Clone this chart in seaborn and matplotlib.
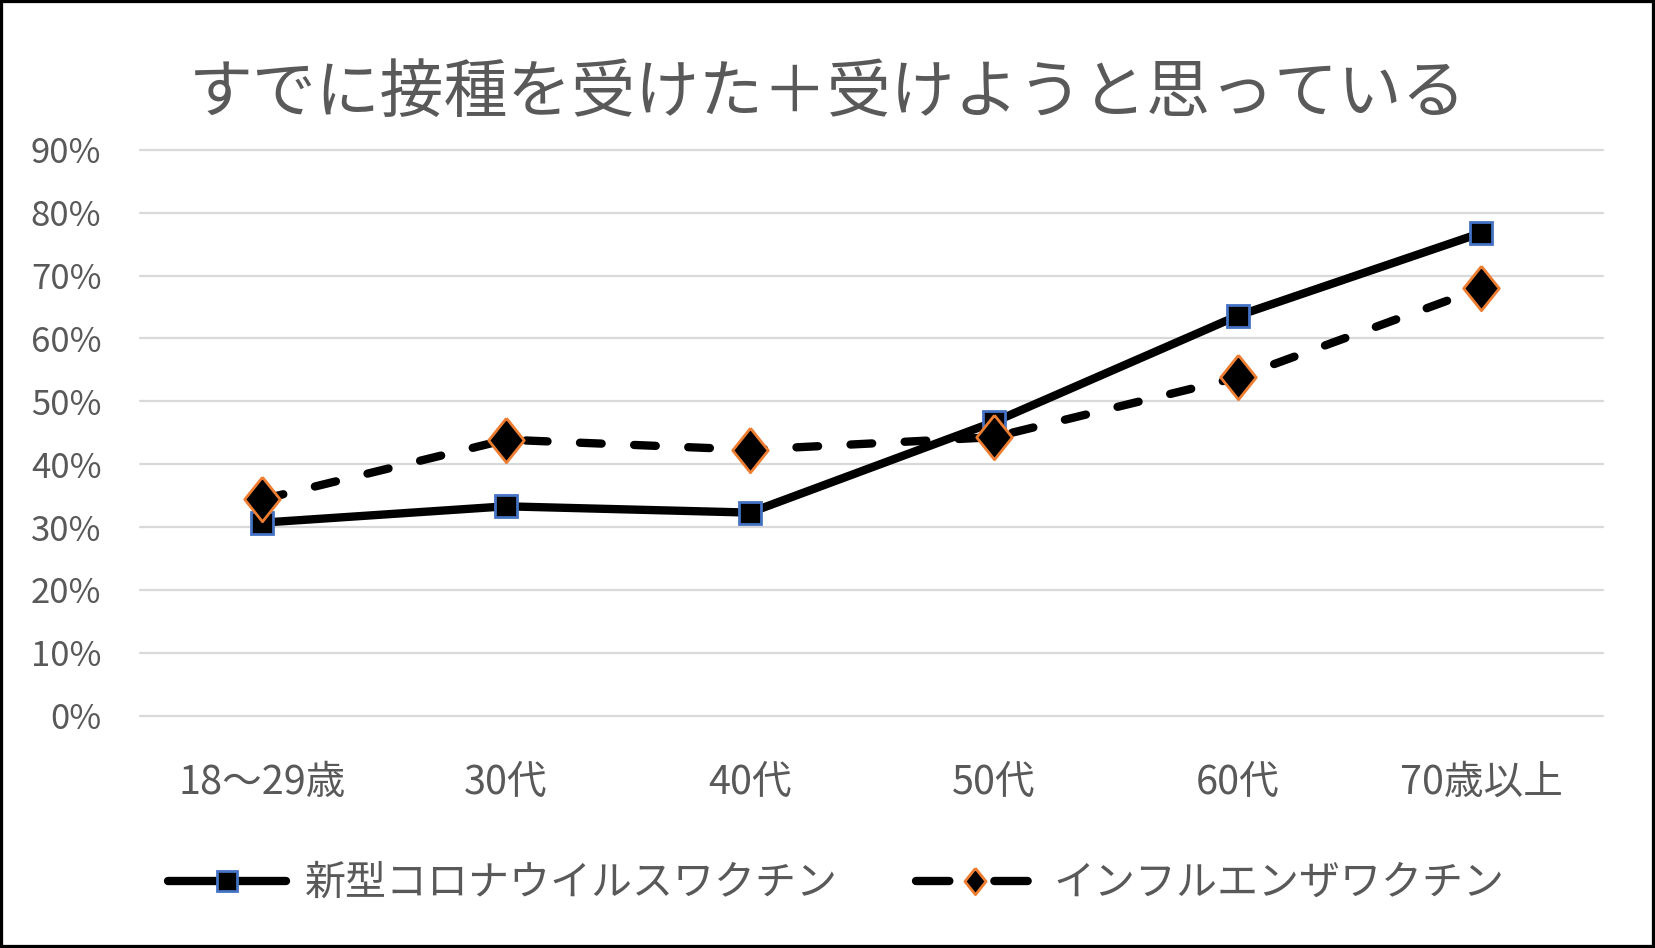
import matplotlib
matplotlib.use("Agg")
import matplotlib.pyplot as plt
import seaborn as sns
import pandas as pd
from matplotlib.ticker import PercentFormatter, MultipleLocator
from matplotlib.patches import Rectangle

# ---- data ----
categories = ["18～29歳", "30代", "40代", "50代", "60代", "70歳以上"]
covid = [0.307, 0.333, 0.323, 0.467, 0.636, 0.768]
flu = [0.344, 0.439, 0.423, 0.443, 0.538, 0.680]
series_names = ["新型コロナウイルスワクチン", "インフルエンザワクチン"]
title = "すでに接種を受けた＋受けようと思っている"

TEXT = "#595959"
GRID = "#D9D9D9"
BLUE = "#4472C4"
ORANGE = "#ED7D31"

sns.set_theme(style="white")
plt.rcParams["font.family"] = ["Noto Sans CJK JP", "DejaVu Sans"]

df_c = pd.DataFrame({"cat": pd.Categorical(categories, categories=categories, ordered=True), "val": covid})
df_f = pd.DataFrame({"cat": pd.Categorical(categories, categories=categories, ordered=True), "val": flu})

fig = plt.figure(figsize=(16.55, 9.48), dpi=100)
ax = fig.add_axes([0.0848, 0.2451, 0.9688 - 0.0848, 0.8419 - 0.2451])

diamond = [(0, 1), (0.8, 0), (0, -1), (-0.8, 0), (0, 1)]

sns.lineplot(data=df_c, x="cat", y="val", ax=ax, color="black", lw=6, sort=False,
             marker="s", markersize=16.5, markerfacecolor="black",
             markeredgecolor=BLUE, markeredgewidth=2.0, label=series_names[0])
sns.lineplot(data=df_f, x="cat", y="val", ax=ax, color="black", lw=6, sort=False,
             marker=diamond, markersize=32, markerfacecolor="black",
             markeredgecolor=ORANGE, markeredgewidth=2.0, label=series_names[1])

lines = ax.get_lines()
lines[0].set_solid_capstyle("round")
lines[0].set_solid_joinstyle("round")
lines[1].set_dashes((2.6, 3.9))
lines[1].set_dash_capstyle("round")
lines[1].set_dash_joinstyle("round")

ax.set_xlim(-0.5, 5.5)
ax.set_ylim(0, 0.9)
ax.yaxis.set_major_locator(MultipleLocator(0.1))
ax.yaxis.set_major_formatter(PercentFormatter(xmax=1, decimals=0))
ax.set_xlabel("")
ax.set_ylabel("")
ax.yaxis.grid(True, color=GRID, lw=1.6)
ax.xaxis.grid(False)
for gl in ax.get_ygridlines():
    gl.set_clip_on(False)
for s in ax.spines.values():
    s.set_visible(False)
ax.tick_params(axis="y", length=0, pad=28, labelsize=25, labelcolor=TEXT)
ax.tick_params(axis="x", length=0, pad=34, labelsize=28.5, labelcolor=TEXT)

handles, labels = ax.get_legend_handles_labels()
ax.get_legend().remove()
leg = fig.legend(handles, labels, loc="center", bbox_to_anchor=(0.505, 0.068), ncol=2,
                 frameon=False, fontsize=29.5, labelcolor=TEXT, handlelength=2.9,
                 handletextpad=0.45, columnspacing=1.9)
leg.legend_handles[0].set_markersize(15)
leg.legend_handles[1].set_markersize(19)
leg.legend_handles[1].set_dashes((4.0, 5.4))
leg.legend_handles[1].set_dash_capstyle("round")

fig.text(0.5, 0.901, title, ha="center", va="center", fontsize=46, color=TEXT)

fig.add_artist(Rectangle((0, 0), 1, 1, transform=fig.transFigure, fill=False,
                         ec="black", lw=4.5))

fig.savefig("out.png", dpi=100)
